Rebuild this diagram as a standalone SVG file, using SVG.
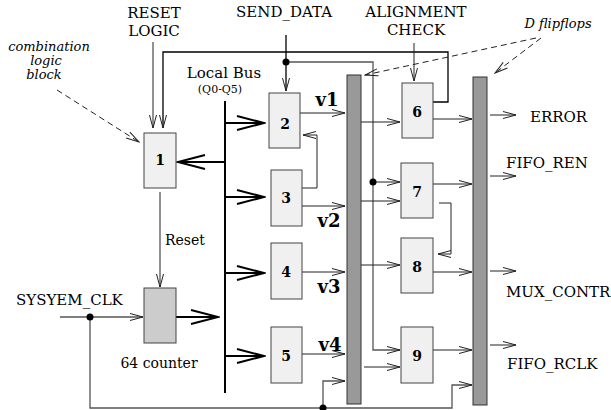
<svg xmlns="http://www.w3.org/2000/svg" width="611" height="410" viewBox="0 0 611 410">
<style>
text{font-family:"DejaVu Serif","Liberation Serif",serif;fill:#000}
.lb{font-size:15px}
.sm{font-size:14px}
.it{font-size:13px;font-style:italic}
.num{font-size:14px;font-weight:bold;text-anchor:middle}
.v{font-size:18px;font-weight:bold;text-anchor:middle}
.box{fill:#f0f0f0;stroke:#444;stroke-width:1}
.cnt{fill:#cccccc;stroke:#444;stroke-width:1}
.bar{fill:#999999;stroke:#333;stroke-width:1}
.ln{fill:none;stroke:#222;stroke-width:1}
.gl{fill:none;stroke:#555;stroke-width:1.3}
.bk{fill:none;stroke:#000;stroke-width:1.3}
.big{fill:none;stroke:#000;stroke-width:2}
.ds{fill:none;stroke:#222;stroke-width:1;stroke-dasharray:6,4}
</style>
<defs>
<marker id="a" markerWidth="15" markerHeight="9" refX="14" refY="4.5" orient="auto" markerUnits="userSpaceOnUse">
<path d="M1,1 L14,4.5 L1,8" fill="none" stroke="#222" stroke-width="1"/>
</marker>
<marker id="b" markerWidth="30" markerHeight="18" refX="28" refY="9" orient="auto" markerUnits="userSpaceOnUse">
<path d="M1,2 L28,9 L1,16" fill="none" stroke="#000" stroke-width="2"/>
</marker>
</defs>

<g id="labels">
<text class="lb" x="154" y="18" text-anchor="middle">RESET</text>
<text class="lb" x="154" y="36" text-anchor="middle">LOGIC</text>
<text class="lb" x="284" y="17" text-anchor="middle">SEND_DATA</text>
<text class="lb" x="416" y="17" text-anchor="middle">ALIGNMENT</text>
<text class="lb" x="416" y="35" text-anchor="middle">CHECK</text>
<text class="it" x="49" y="51" text-anchor="middle">combination</text>
<text class="it" x="46" y="65" text-anchor="middle">logic</text>
<text class="it" x="44" y="79" text-anchor="middle">block</text>
<text class="it" x="558" y="28" text-anchor="middle">D flipflops</text>
<text class="lb" x="224" y="78" text-anchor="middle">Local Bus</text>
<text x="220" y="93" text-anchor="middle" style="font-size:11px">(Q0-Q5)</text>
<text class="sm" x="165" y="245">Reset</text>
<text class="lb" x="16" y="305">SYSYEM_CLK</text>
<text class="sm" x="159" y="368" text-anchor="middle">64 counter</text>
<text class="lb" x="530" y="122">ERROR</text>
<text class="lb" x="506" y="168">FIFO_REN</text>
<text class="lb" x="506" y="297">MUX_CONTR</text>
<text class="lb" x="507" y="369">FIFO_RCLK</text>
<text class="v" x="327" y="106">v1</text>
<text class="v" x="329" y="227">v2</text>
<text class="v" x="329" y="293">v3</text>
<text class="v" x="330" y="351">v4</text>
</g>

<g id="connectors">
<!-- reset logic input -->
<line class="ln" x1="153" y1="42" x2="153" y2="128" marker-end="url(#a)"/>
<!-- feedback from 6 to 1 -->
<polyline class="bk" points="433,102 448,102 448,52 163,52 163,128" marker-end="url(#a)"/>
<!-- send data -->
<line class="bk" x1="286" y1="35" x2="286" y2="91" marker-end="url(#a)"/>
<polyline class="gl" points="286,62 373,62 373,350 400,350" marker-end="url(#a)"/>
<line class="ln" x1="373" y1="182" x2="400" y2="182" marker-end="url(#a)"/>
<!-- alignment check -->
<line class="ln" x1="414" y1="43" x2="414" y2="81" marker-end="url(#a)"/>
<!-- local bus -->
<line class="big" x1="225" y1="101" x2="225" y2="393"/>
<line class="big" x1="225" y1="123" x2="264" y2="123" marker-end="url(#b)"/>
<line class="big" x1="225" y1="197" x2="264" y2="197" marker-end="url(#b)"/>
<line class="big" x1="225" y1="273" x2="264" y2="273" marker-end="url(#b)"/>
<line class="big" x1="225" y1="356" x2="264" y2="356" marker-end="url(#b)"/>
<line class="big" x1="225" y1="162" x2="178" y2="162" marker-end="url(#b)"/>
<line class="big" x1="176" y1="317" x2="218" y2="317" marker-end="url(#b)"/>
<!-- reset -->
<line class="ln" x1="160" y1="192" x2="160" y2="287" marker-end="url(#a)"/>
<!-- clock -->
<line class="gl" x1="60" y1="317" x2="143" y2="317" marker-end="url(#a)"/>
<polyline class="gl" points="90,317 90,408 452,408 452,385 472,385" marker-end="url(#a)"/>
<polyline class="gl" points="323,408 323,381 345,381" marker-end="url(#a)"/>
<!-- boxes to bar1 -->
<line class="ln" x1="300" y1="113" x2="345" y2="113" marker-end="url(#a)"/>
<line class="ln" x1="302" y1="206" x2="345" y2="206" marker-end="url(#a)"/>
<line class="ln" x1="302" y1="272" x2="345" y2="272" marker-end="url(#a)"/>
<line class="ln" x1="302" y1="354" x2="345" y2="354" marker-end="url(#a)"/>
<polyline class="ln" points="302,188 317,188 317,135 303,135" marker-end="url(#a)"/>
<!-- bar1 to boxes -->
<line class="ln" x1="361" y1="122" x2="400" y2="122" marker-end="url(#a)"/>
<line class="ln" x1="361" y1="201" x2="400" y2="201" marker-end="url(#a)"/>
<line class="ln" x1="361" y1="265" x2="400" y2="265" marker-end="url(#a)"/>
<line class="ln" x1="364" y1="367" x2="400" y2="367" marker-end="url(#a)"/>
<!-- boxes to bar2 -->
<line class="ln" x1="433" y1="119" x2="472" y2="119" marker-end="url(#a)"/>
<line class="ln" x1="433" y1="184" x2="472" y2="184" marker-end="url(#a)"/>
<line class="ln" x1="433" y1="272" x2="472" y2="272" marker-end="url(#a)"/>
<line class="ln" x1="433" y1="350" x2="472" y2="350" marker-end="url(#a)"/>
<polyline class="ln" points="439,203 451,203 451,254 438,254" marker-end="url(#a)"/>
<!-- bar2 outputs -->
<line class="ln" x1="490" y1="115" x2="516" y2="115" marker-end="url(#a)"/>
<line class="ln" x1="490" y1="176" x2="516" y2="176" marker-end="url(#a)"/>
<line class="ln" x1="490" y1="271" x2="516" y2="271" marker-end="url(#a)"/>
<line class="ln" x1="490" y1="345" x2="516" y2="345" marker-end="url(#a)"/>
<!-- annotations -->
<line class="ds" x1="57" y1="90" x2="139" y2="142" marker-end="url(#a)"/>
<line class="ds" x1="541" y1="38" x2="495" y2="73" marker-end="url(#a)"/>
<line class="ds" x1="536" y1="38" x2="365" y2="75" marker-end="url(#a)"/>
<!-- dots -->
<circle cx="286" cy="62" r="3.5" fill="#000"/>
<circle cx="373" cy="182" r="3.5" fill="#000"/>
<circle cx="90" cy="317" r="3.5" fill="#000"/>
<circle cx="323" cy="408" r="3.5" fill="#000"/>
</g>

<g id="bar1"><rect class="bar" x="347" y="75" width="14" height="329"/></g>
<g id="bar2"><rect class="bar" x="473" y="77" width="14" height="328"/></g>

<g id="n1"><rect class="box" x="144" y="133" width="32" height="55"/><text class="num" x="160" y="165">1</text></g>
<g id="counter"><rect class="cnt" x="144" y="288" width="32" height="55"/></g>
<g id="n2"><rect class="box" x="269" y="93" width="31" height="55"/><text class="num" x="285" y="129">2</text></g>
<g id="n3"><rect class="box" x="271" y="170" width="31" height="56"/><text class="num" x="286" y="203">3</text></g>
<g id="n4"><rect class="box" x="271" y="243" width="31" height="56"/><text class="num" x="286" y="277">4</text></g>
<g id="n5"><rect class="box" x="271" y="327" width="31" height="56"/><text class="num" x="286" y="361">5</text></g>
<g id="n6"><rect class="box" x="402" y="83" width="31" height="55"/><text class="num" x="417" y="117">6</text></g>
<g id="n7"><rect class="box" x="401" y="163" width="32" height="55"/><text class="num" x="417" y="197">7</text></g>
<g id="n8"><rect class="box" x="401" y="238" width="32" height="55"/><text class="num" x="417" y="272">8</text></g>
<g id="n9"><rect class="box" x="401" y="327" width="32" height="56"/><text class="num" x="417" y="361">9</text></g>
</svg>
